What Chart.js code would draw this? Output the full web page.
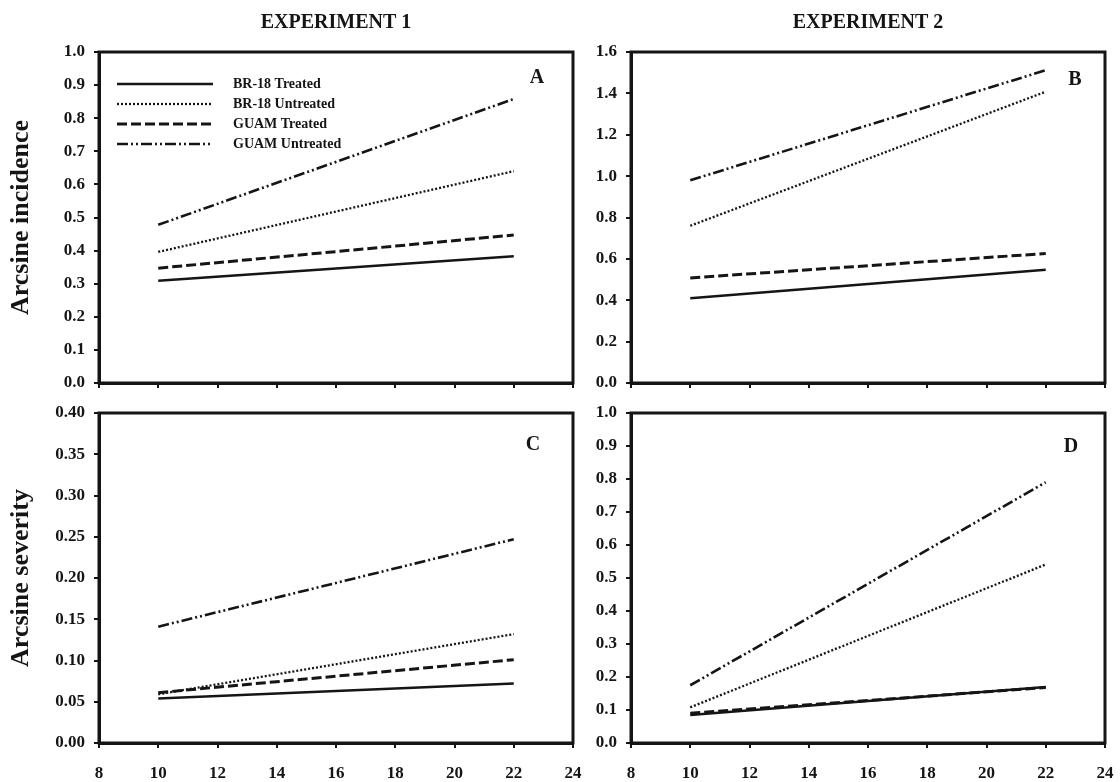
<!DOCTYPE html>
<html>
<head>
<meta charset="utf-8">
<script src="https://cdn.jsdelivr.net/npm/chart.js@4.4.1/dist/chart.umd.min.js"></script>
<style>
  body { margin: 0; background: #fff; overflow: hidden; }
  #wrap { position: relative; width: 1120px; height: 782px; background: #fff; }
  canvas { position: absolute; }
</style>
</head>
<body>
<div id="wrap">
  <canvas id="pA" width="590" height="400" style="left:0;top:0"></canvas>
  <canvas id="pB" width="560" height="400" style="left:560px;top:0"></canvas>
  <canvas id="pC" width="590" height="382" style="left:0;top:400px"></canvas>
  <canvas id="pD" width="560" height="382" style="left:560px;top:400px"></canvas>
</div>
<script>
// x = days (only the two fitted end points of each regression line)
const days = [10, 22];
const seriesNames = ['BR-18 Treated', 'BR-18 Untreated', 'GUAM Treated', 'GUAM Untreated'];

// one row per series, in seriesNames order: [value at day 10, value at day 22]
const incidenceExp1 = [[0.309, 0.383], [0.396, 0.640], [0.347, 0.447], [0.478, 0.858]];
const incidenceExp2 = [[0.410, 0.547], [0.760, 1.408], [0.508, 0.626], [0.980, 1.512]];
const severityExp1 = [[0.054, 0.072], [0.059, 0.132], [0.061, 0.101], [0.141, 0.247]];
const severityExp2 = [[0.085, 0.170], [0.108, 0.541], [0.090, 0.168], [0.175, 0.790]];

const INK = '#151515';
const SERIF = '"Liberation Serif", "Times New Roman", serif';

const lineStyles = [
  { borderDash: [], borderWidth: 2.5 },
  { borderDash: [2, 2], borderWidth: 2.3 },
  { borderDash: [10, 4], borderWidth: 3 },
  { borderDash: [11, 3, 2, 3, 2, 3], borderWidth: 2.6 },
];

// frame, panel letter, column heading and (panel A only) the legend
const panelPlugin = {
  id: 'panel',
  afterDraw(chart, args, opts) {
    const { left, right, top, bottom } = chart.chartArea;
    const ctx = chart.ctx;
    ctx.save();
    ctx.strokeStyle = INK;
    ctx.lineWidth = 3;
    ctx.setLineDash([]);
    ctx.strokeRect(left, top, right - left, bottom - top);
    ctx.fillStyle = INK;
    ctx.textAlign = 'center';
    ctx.textBaseline = 'middle';
    if (opts.letter) {
      ctx.font = 'bold 20px ' + SERIF;
      ctx.fillText(opts.letter, right - opts.letterDx, top + opts.letterDy);
    }
    if (opts.heading) {
      ctx.font = 'bold 20px ' + SERIF;
      ctx.fillText(opts.heading, (left + right) / 2, 23);
    }
    if (opts.legend) {
      ctx.textAlign = 'left';
      ctx.font = 'bold 14px ' + SERIF;
      chart.data.datasets.forEach((ds, i) => {
        const y = top + 32 + i * 20;
        ctx.beginPath();
        ctx.setLineDash(ds.borderDash);
        ctx.lineWidth = ds.borderWidth;
        ctx.moveTo(left + 18, y);
        ctx.lineTo(left + 114, y);
        ctx.stroke();
        ctx.setLineDash([]);
        ctx.fillText(ds.label, left + 134, y);
      });
    }
    ctx.restore();
  }
};

function yScale(max, step, decimals, width, title) {
  return {
    type: 'linear', min: 0, max: max,
    ticks: {
      stepSize: step, color: INK, padding: 9,
      font: { family: SERIF, size: 17, weight: 'bold' },
      callback: v => v.toFixed(decimals)
    },
    grid: { drawOnChartArea: false, drawTicks: true, tickLength: 5, color: INK, lineWidth: 2 },
    border: { display: true, color: INK, width: 3 },
    title: title
      ? { display: true, text: title, color: INK, font: { family: SERIF, size: 26, weight: 'bold' }, padding: { top: 6, bottom: 0 } }
      : { display: false },
    afterFit(s) { s.width = width; s.paddingTop = 0; s.paddingBottom = 0; }
  };
}

function xScale(showLabels, height) {
  return {
    type: 'linear', min: 8, max: 24,
    ticks: {
      display: showLabels, stepSize: 2, color: INK, padding: 15,
      font: { family: SERIF, size: 17, weight: 'bold' }
    },
    grid: { drawOnChartArea: false, drawTicks: true, tickLength: 5, color: INK, lineWidth: 2 },
    border: { display: true, color: INK, width: 3 },
    // end labels may hang into the outer margin; keep the plot edges fixed
    afterFit(s) { s.height = height; s.paddingLeft = 0; s.paddingRight = 0; }
  };
}

function datasets(values) {
  return seriesNames.map((name, i) => Object.assign({
    label: name,
    data: days.map((d, j) => ({ x: d, y: values[i][j] })),
    borderColor: INK, backgroundColor: INK,
    pointRadius: 0, fill: false, tension: 0, borderCapStyle: 'butt'
  }, lineStyles[i]));
}

function panel(id, values, o) {
  return new Chart(document.getElementById(id), {
    type: 'line',
    data: { datasets: datasets(values) },
    options: {
      responsive: false, animation: false, devicePixelRatio: 1,
      layout: { padding: { top: o.top, right: o.right, left: 0, bottom: 0 } },
      scales: {
        x: xScale(o.xLabels, o.xHeight),
        y: yScale(o.max, o.step, o.decimals, o.yWidth, o.yTitle)
      },
      plugins: {
        legend: { display: false },
        tooltip: { enabled: false },
        panel: { letter: o.letter, letterDx: o.letterDx, letterDy: o.letterDy, heading: o.heading, legend: o.legend }
      }
    },
    plugins: [panelPlugin]
  });
}

panel('pA', incidenceExp1, { top: 52, right: 17, xLabels: false, xHeight: 17, max: 1.0, step: 0.1, decimals: 1, yWidth: 99,
  yTitle: 'Arcsine incidence', letter: 'A', letterDx: 36, letterDy: 26, heading: 'EXPERIMENT 1', legend: true });
panel('pB', incidenceExp2, { top: 52, right: 15, xLabels: false, xHeight: 17, max: 1.6, step: 0.2, decimals: 1, yWidth: 71,
  yTitle: null, letter: 'B', letterDx: 30, letterDy: 28, heading: 'EXPERIMENT 2', legend: false });
panel('pC', severityExp1, { top: 13, right: 17, xLabels: true, xHeight: 39, max: 0.4, step: 0.05, decimals: 2, yWidth: 99,
  yTitle: 'Arcsine severity', letter: 'C', letterDx: 40, letterDy: 32, heading: null, legend: false });
panel('pD', severityExp2, { top: 13, right: 15, xLabels: true, xHeight: 39, max: 1.0, step: 0.1, decimals: 1, yWidth: 71,
  yTitle: null, letter: 'D', letterDx: 34, letterDy: 34, heading: null, legend: false });
</script>
</body>
</html>
